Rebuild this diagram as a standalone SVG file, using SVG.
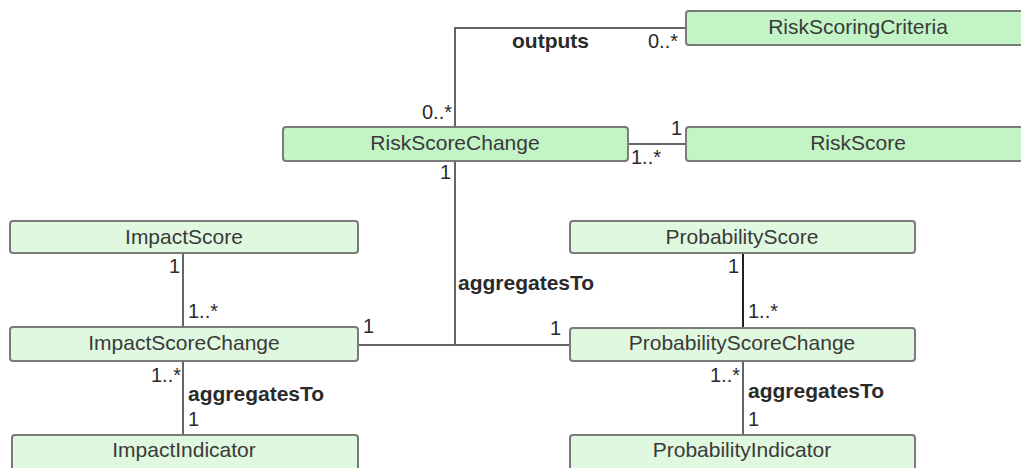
<svg xmlns="http://www.w3.org/2000/svg" width="1021" height="468" viewBox="0 0 1021 468">
  <style>
    .box { stroke: #7a7a7a; stroke-width: 2; }
    .main { fill: #c3f4c6; }
    .sub { fill: #dff8df; }
    .name { font-family: "Liberation Sans", Arial, sans-serif; font-size: 21px; fill: #3a3a3a; text-anchor: middle; }
    .lbl { font-family: "Liberation Sans", Arial, sans-serif; font-size: 20px; fill: #2a2a2a; }
    .bold { font-weight: bold; font-size: 21px; }
    .end { text-anchor: end; }
    .wire { fill: none; stroke: #666; stroke-width: 2; }
    .dark { stroke: #222; }
  </style>
  <rect width="1021" height="468" fill="#ffffff"/>

  <!-- associations -->
  <g id="connectors">
    <path class="wire" d="M455 127 V28 H686"/>
    <path class="wire" d="M628 144 H686"/>
    <path class="wire" d="M455 161 V345 M358 345 H570"/>
    <path class="wire" d="M183 253 V327"/>
    <path class="wire" d="M183 361 V435"/>
    <path class="wire dark" d="M743 253 V328"/>
    <path class="wire" d="M743 361 V435"/>

    <text class="lbl bold" x="512" y="48">outputs</text>
    <text class="lbl end" x="678" y="48">0..*</text>
    <text class="lbl end" x="452" y="119">0..*</text>

    <text class="lbl end" x="682" y="135">1</text>
    <text class="lbl" x="631" y="164">1..*</text>

    <text class="lbl end" x="451" y="179">1</text>
    <text class="lbl bold" x="458" y="290">aggregatesTo</text>
    <text class="lbl" x="363" y="333">1</text>
    <text class="lbl end" x="561" y="335">1</text>

    <text class="lbl end" x="180" y="273">1</text>
    <text class="lbl" x="188" y="318">1..*</text>
    <text class="lbl end" x="181" y="382">1..*</text>
    <text class="lbl bold" x="188" y="401">aggregatesTo</text>
    <text class="lbl" x="188" y="426">1</text>

    <text class="lbl end" x="739" y="273">1</text>
    <text class="lbl" x="748" y="318">1..*</text>
    <text class="lbl end" x="740" y="382">1..*</text>
    <text class="lbl bold" x="748" y="398">aggregatesTo</text>
    <text class="lbl" x="748" y="426">1</text>
  </g>

  <g id="RiskScoringCriteria">
    <rect class="box main" x="686" y="11" width="345" height="34" rx="3"/>
    <text class="name" x="858" y="34">RiskScoringCriteria</text>
  </g>
  <g id="RiskScoreChange">
    <rect class="box main" x="283" y="127" width="345" height="34" rx="3"/>
    <text class="name" x="455" y="150">RiskScoreChange</text>
  </g>
  <g id="RiskScore">
    <rect class="box main" x="686" y="127" width="345" height="34" rx="3"/>
    <text class="name" x="858" y="150">RiskScore</text>
  </g>
  <g id="ImpactScore">
    <rect class="box sub" x="10" y="221" width="348" height="32" rx="3"/>
    <text class="name" x="184" y="244">ImpactScore</text>
  </g>
  <g id="ImpactScoreChange">
    <rect class="box sub" x="10" y="327" width="348" height="34" rx="3"/>
    <text class="name" x="184" y="350">ImpactScoreChange</text>
  </g>
  <g id="ImpactIndicator">
    <rect class="box sub" x="12" y="435" width="346" height="40" rx="3"/>
    <text class="name" x="184" y="457">ImpactIndicator</text>
  </g>
  <g id="ProbabilityScore">
    <rect class="box sub" x="570" y="221" width="345" height="32" rx="3"/>
    <text class="name" x="742" y="244">ProbabilityScore</text>
  </g>
  <g id="ProbabilityScoreChange">
    <rect class="box sub" x="570" y="328" width="345" height="33" rx="3"/>
    <text class="name" x="742" y="350">ProbabilityScoreChange</text>
  </g>
  <g id="ProbabilityIndicator">
    <rect class="box sub" x="570" y="435" width="345" height="40" rx="3"/>
    <text class="name" x="742" y="457">ProbabilityIndicator</text>
  </g>
</svg>
